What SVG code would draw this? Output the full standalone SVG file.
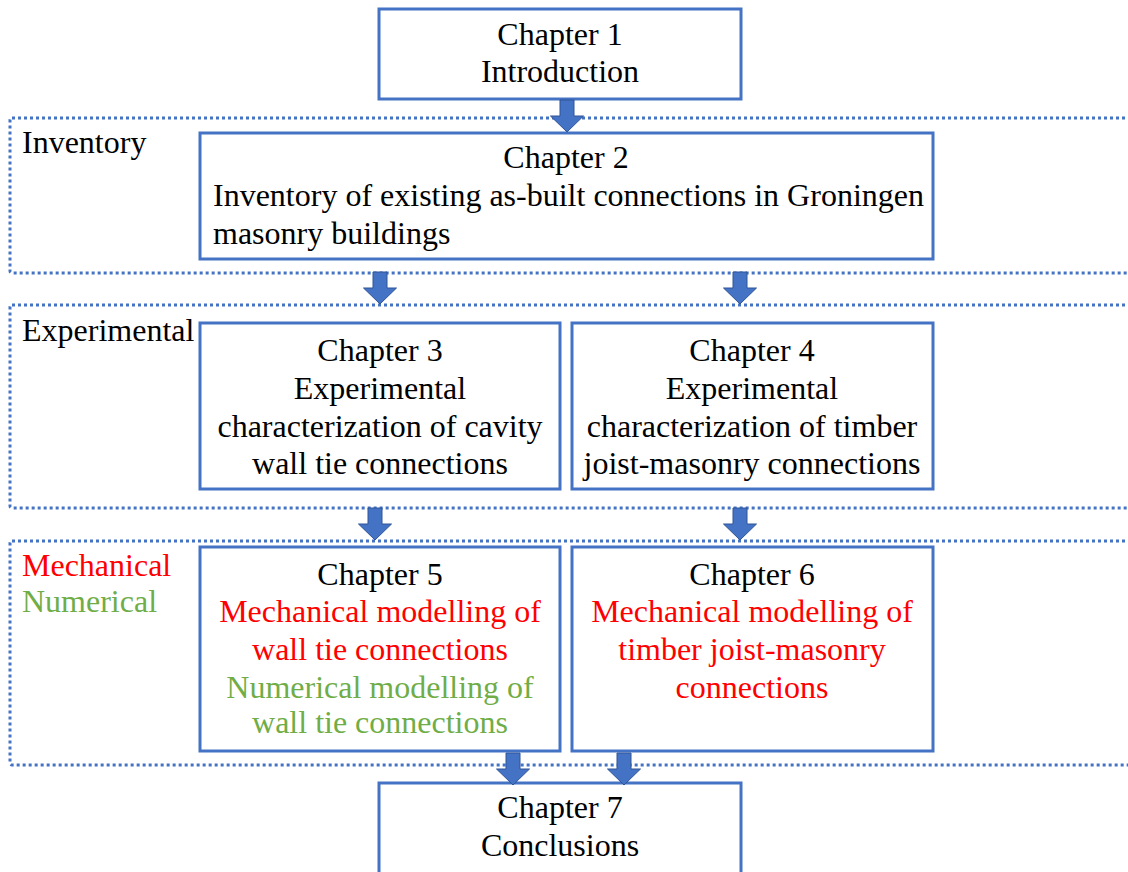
<svg xmlns="http://www.w3.org/2000/svg" width="1128" height="872" viewBox="0 0 1128 872">
<style>
.box{fill:#fff;stroke:#4472C4;stroke-width:3}
.grp{fill:none;stroke:#4472C4;stroke-width:3;stroke-dasharray:3 3}
.arr{fill:#4472C4;stroke:#2F5597;stroke-width:1}
text{font-family:"Liberation Serif","Times New Roman",serif;font-size:32px;fill:#000}
.c{text-anchor:middle}
.r{fill:#FF0000}
.g{fill:#70AD47}
</style>
<defs>
<path id="ar" d="M-7,0 H7 V16 H16.5 L0,32 L-16.5,16 H-7 Z"/>
</defs>
<g id="groups">
<rect class="grp" x="10" y="118" width="1140" height="155" rx="2"/>
<rect class="grp" x="10" y="305" width="1140" height="203" rx="2"/>
<rect class="grp" x="10" y="541" width="1140" height="224" rx="2"/>
<text x="22" y="153">Inventory</text>
<text x="22" y="341">Experimental</text>
<text class="r" x="22" y="576">Mechanical</text>
<text class="g" x="22" y="612">Numerical</text>
</g>
<g id="ch1">
<rect class="box" x="379" y="9" width="362" height="90"/>
<text class="c" x="560" y="45">Chapter 1</text>
<text class="c" x="560" y="82">Introduction</text>
</g>
<g id="ch2">
<rect class="box" x="200" y="133" width="733" height="126"/>
<text class="c" x="566" y="168">Chapter 2</text>
<text x="213" y="206">Inventory of existing as-built connections in Groningen</text>
<text x="213" y="244">masonry buildings</text>
</g>
<g id="ch3">
<rect class="box" x="200" y="323" width="360" height="166"/>
<text class="c" x="380" y="361">Chapter 3</text>
<text class="c" x="380" y="399">Experimental</text>
<text class="c" x="380" y="437">characterization of cavity</text>
<text class="c" x="380" y="474">wall tie connections</text>
</g>
<g id="ch4">
<rect class="box" x="572" y="323" width="361" height="166"/>
<text class="c" x="752" y="361">Chapter 4</text>
<text class="c" x="752" y="399">Experimental</text>
<text class="c" x="752" y="437">characterization of timber</text>
<text class="c" x="752" y="474">joist-masonry connections</text>
</g>
<g id="ch5">
<rect class="box" x="200" y="547" width="360" height="204"/>
<text class="c" x="380" y="585">Chapter 5</text>
<text class="c r" x="380" y="622">Mechanical modelling of</text>
<text class="c r" x="380" y="660">wall tie connections</text>
<text class="c g" x="380" y="698">Numerical modelling of</text>
<text class="c g" x="380" y="733">wall tie connections</text>
</g>
<g id="ch6">
<rect class="box" x="572" y="547" width="361" height="204"/>
<text class="c" x="752" y="585">Chapter 6</text>
<text class="c r" x="752" y="622">Mechanical modelling of</text>
<text class="c r" x="752" y="660">timber joist-masonry</text>
<text class="c r" x="752" y="698">connections</text>
</g>
<g id="ch7">
<rect class="box" x="379" y="783" width="362" height="100"/>
<text class="c" x="560" y="818">Chapter 7</text>
<text class="c" x="560" y="856">Conclusions</text>
</g>
<g id="connectors">
<use href="#ar" class="arr" transform="translate(567,100)"/>
<use href="#ar" class="arr" transform="translate(380,272)"/>
<use href="#ar" class="arr" transform="translate(740,272)"/>
<use href="#ar" class="arr" transform="translate(375,508)"/>
<use href="#ar" class="arr" transform="translate(740,508)"/>
<use href="#ar" class="arr" transform="translate(513,753)"/>
<use href="#ar" class="arr" transform="translate(624,753)"/>
</g>
</svg>
